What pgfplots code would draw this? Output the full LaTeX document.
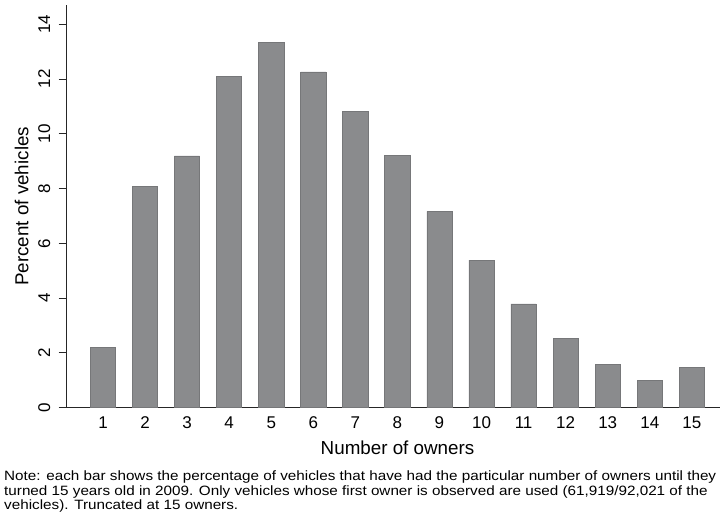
\documentclass[border=0pt]{standalone}
\usepackage{fontspec}
\setmainfont{Liberation Sans}
\newfontfamily\notefont[FakeStretch=1.13]{Liberation Sans}
\usepackage{pgfplots}
\pgfplotsset{compat=1.18}

\definecolor{barfill}{HTML}{8A8B8D}
\definecolor{baredge}{HTML}{767779}

\begin{document}
\begin{tikzpicture}
\path[use as bounding box] (0,0) rectangle (720bp,515bp);
\begin{axis}[
    at={(66.7bp,107.3bp)}, anchor=south west,
    scale only axis,
    width=653.3bp, height=402.7bp,
    xmin=0.137, xmax=15.67,
    ymin=0, ymax=14.70,
    enlargelimits=false,
    axis x line*=bottom,
    axis y line*=left,
    axis line style={-, line width=0.9bp, black!85},
    xtick={1,...,15},
    ytick={0,2,...,14},
    tick align=outside,
    major tick length=8bp,
    xtick style={draw=none},
    ytick style={line width=0.9bp, black!85},
    /pgf/number format/assume math mode=true,
    ticklabel style={font=\fontsize{17bp}{17bp}\selectfont, inner sep=0pt},
    xticklabel style={anchor=base},
    xticklabel shift=13.3bp,
    yticklabel style={rotate=90, anchor=base},
    yticklabel shift=8.7bp,
    xlabel={Number of owners},
    every axis x label/.style={at={(rel axis cs:0.5064,0)}, anchor=base,
        yshift=-47.3bp, inner sep=0pt, font=\fontsize{18.8bp}{18.8bp}\selectfont},
    ylabel={Percent of vehicles},
    every axis y label/.style={at={(rel axis cs:0,0.5)}, xshift=-38.2bp,
        rotate=90, anchor=base, inner sep=0pt, font=\fontsize{18.8bp}{18.8bp}\selectfont},
]
\addplot[ybar, bar width=0.6, bar shift=0, fill=barfill, draw=baredge, line width=0.6bp]
    coordinates {
    (1,2.19)(2,8.08)(3,9.19)(4,12.09)(5,13.34)(6,12.26)(7,10.82)(8,9.22)
    (9,7.17)(10,5.39)(11,3.79)(12,2.52)(13,1.57)(14,1.00)(15,1.46)
    };
\end{axis}
% note below the chart
\begin{scope}[every node/.style={anchor=base west, inner sep=0pt,
        font=\notefont\fontsize{13.5bp}{14.3bp}\selectfont}]
\node at (4bp,34.3bp) {Note: each bar shows the percentage of vehicles that have had the particular number of owners until they};
\node at (4bp,20.0bp) {turned 15 years old in 2009. Only vehicles whose first owner is observed are used (61,919/92,021 of the};
\node at (4bp,5.7bp) {vehicles). Truncated at 15 owners.};
\end{scope}
\end{tikzpicture}
\end{document}
